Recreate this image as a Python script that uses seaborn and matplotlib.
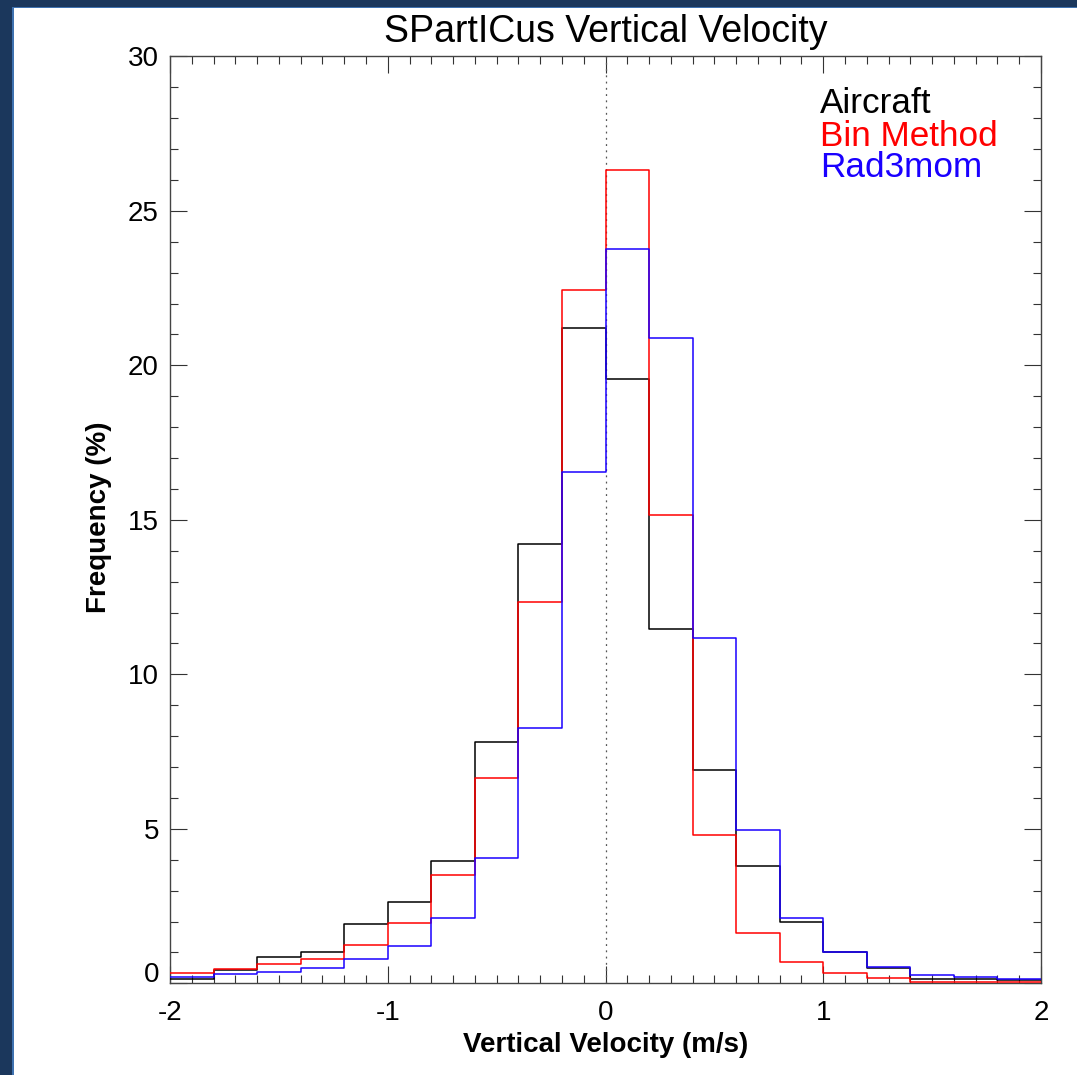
import numpy as np
import pandas as pd
import matplotlib
matplotlib.use("Agg")
import matplotlib.pyplot as plt
import matplotlib.transforms as mtransforms
from matplotlib.patches import Rectangle
from matplotlib.ticker import MultipleLocator
import seaborn as sns

# Vertical velocity bins (m/s) and frequency (%) in each bin
bin_edges = [-2.0, -1.8, -1.6, -1.4, -1.2, -1.0, -0.8, -0.6, -0.4, -0.2, 0.0,
             0.2, 0.4, 0.6, 0.8, 1.0, 1.2, 1.4, 1.6, 1.8, 2.0]
aircraft = [0.15, 0.43, 0.86, 1.00, 1.92, 2.64, 3.95, 7.81, 14.22, 21.20,
            19.55, 11.46, 6.90, 3.80, 1.99, 1.00, 0.50, 0.14, 0.14, 0.12]
bin_method = [0.32, 0.47, 0.61, 0.79, 1.24, 1.95, 3.52, 6.65, 12.35, 22.44,
              26.33, 15.17, 4.80, 1.64, 0.70, 0.34, 0.16, 0.05, 0.03, 0.03]
rad3mom = [0.21, 0.29, 0.37, 0.50, 0.78, 1.21, 2.11, 4.04, 8.25, 16.56,
           23.75, 20.89, 11.17, 4.95, 2.10, 1.02, 0.52, 0.27, 0.20, 0.14]

series_names = ["Aircraft", "Bin Method", "Rad3mom"]
series_values = [aircraft, bin_method, rad3mom]
series_colors = ["#000000", "#ff0000", "#1a00ff"]

x_ticks = [-2, -1, 0, 1, 2]
y_ticks = [0, 5, 10, 15, 20, 25, 30]

sns.set_theme(style="white")
plt.rcParams["font.family"] = ["Liberation Sans", "DejaVu Sans"]
plt.rcParams["axes.unicode_minus"] = False

edges = np.asarray(bin_edges)
centers = (edges[:-1] + edges[1:]) / 2
df = pd.concat(
    [pd.DataFrame({"velocity": centers, "freq": vals, "source": name})
     for name, vals in zip(series_names, series_values)],
    ignore_index=True,
)

W, H = 1077, 1075
fig = plt.figure(figsize=(W / 100, H / 100), dpi=100)
fig.patch.set_facecolor("white")
ax = fig.add_axes([170 / W, 1 - 983.3 / H, (1041 - 170) / W, (983.3 - 56.3) / H])

# dotted zero line
ax.axvline(0, color="#555555", lw=0.9, ls=(0, (1.5, 3.5)), zorder=1)

for name, color in zip(series_names, series_colors):
    sns.histplot(data=df[df["source"] == name], x="velocity", weights="freq",
                 bins=list(bin_edges), element="step", fill=False, color=color,
                 linewidth=1.1, ax=ax, legend=False, zorder=3)

ax.set_xlim(-2, 2)
ax.set_ylim(0, 30)
ax.set_xticks(x_ticks)
ax.set_yticks(y_ticks)
ax.xaxis.set_minor_locator(MultipleLocator(0.1))
ax.yaxis.set_minor_locator(MultipleLocator(1))
ax.tick_params(which="both", direction="in", top=True, right=True,
               bottom=True, left=True, color="#333333", width=0.8)
ax.tick_params(which="major", length=12)
ax.tick_params(which="minor", length=6)
ax.tick_params(axis="x", which="major", labelsize=20, pad=12)
ax.tick_params(axis="y", which="major", labelsize=20, pad=8)
for lab in ax.get_xticklabels() + ax.get_yticklabels():
    lab.set_color("black")
for sp in ax.spines.values():
    sp.set_color("#444444")
    sp.set_linewidth(1.0)

# lift the "0" label a little above the lower axis
zero_lab = ax.get_yticklabels()[0]
zero_lab.set_transform(zero_lab.get_transform() +
                       mtransforms.ScaledTranslation(0, 11 / 100, fig.dpi_scale_trans))

ax.set_xlabel("Vertical Velocity (m/s)", fontsize=20, fontweight="bold",
              color="black", va="baseline")
ax.xaxis.set_label_coords(0.5, -0.0741)
ax.set_ylabel("Frequency (%)", fontsize=20, fontweight="bold",
              color="black", va="baseline")
ax.yaxis.set_label_coords(-0.0735, 0.5025)
ax.set_title("SPartICus Vertical Velocity", fontsize=27, pad=10, color="black")

legend_y = [0.9385, 0.9036, 0.8701]
for name, color, yy in zip(series_names, series_colors, legend_y):
    ax.text(0.746, yy, name, color=color, fontsize=25.3, transform=ax.transAxes,
            ha="left", va="baseline")

# window frame along the top and left edges
frame = "#1b375c"
edge = "#3f72b0"
fig.add_artist(Rectangle((0, 1 - 6.5 / H), 1, 6.5 / H, transform=fig.transFigure,
                         facecolor=frame, edgecolor="none", zorder=10))
fig.add_artist(Rectangle((12.5 / W, 1 - 8 / H), 1, 1.5 / H, transform=fig.transFigure,
                         facecolor=edge, edgecolor="none", zorder=10))
fig.add_artist(Rectangle((0, 0), 12 / W, 1, transform=fig.transFigure,
                         facecolor=frame, edgecolor="none", zorder=10))
fig.add_artist(Rectangle((12 / W, 0), 1.6 / W, 1 - 6.5 / H, transform=fig.transFigure,
                         facecolor=edge, edgecolor="none", zorder=10))

fig.savefig("out.png", dpi=100, facecolor="white")
